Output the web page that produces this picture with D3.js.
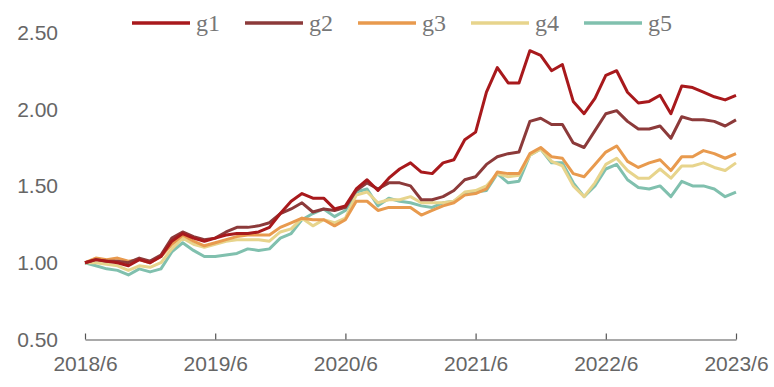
<!DOCTYPE html>
<html>
<head>
<meta charset="utf-8">
<script src="https://cdn.jsdelivr.net/npm/d3@7/dist/d3.min.js"></script>
<style>
  body { margin: 0; background: #fff; }
  .ylab, .xlab { font-family: "Liberation Sans", Arial, sans-serif; font-size: 21px; fill: #666; }
  .leg { font-family: "Liberation Serif", "DejaVu Serif", serif; font-size: 24px; fill: #777; }
</style>
</head>
<body>
<svg id="chart" width="774" height="387"></svg>
<script>
// monthly values, 2018/6 .. 2023/6
var xLabels = ["2018/6", "2019/6", "2020/6", "2021/6", "2022/6", "2023/6"];
var yTicks = [0.5, 1.0, 1.5, 2.0, 2.5];
var names = ["g1", "g2", "g3", "g4", "g5"];
var colors = ["#a8191c", "#8c3a3a", "#e89a4e", "#e7d48c", "#80c0ae"];

var g1 = [1.00,1.02,1.01,1.00,0.98,1.02,1.00,1.04,1.14,1.19,1.16,1.14,1.16,1.18,1.19,1.19,1.20,1.23,1.32,1.40,
          1.45,1.42,1.42,1.35,1.37,1.48,1.54,1.47,1.55,1.61,1.65,1.59,1.58,1.65,1.67,1.80,1.85,2.11,2.27,2.17,
          2.17,2.38,2.35,2.25,2.29,2.05,1.97,2.07,2.22,2.25,2.11,2.04,2.05,2.09,1.97,2.15,2.14,2.11,2.08,2.06,2.09];
var g2 = [1.00,1.02,1.01,1.01,1.00,1.03,1.01,1.05,1.16,1.20,1.17,1.15,1.16,1.20,1.23,1.23,1.24,1.26,1.32,1.35,
          1.39,1.33,1.35,1.34,1.36,1.47,1.52,1.48,1.52,1.52,1.50,1.41,1.41,1.43,1.47,1.54,1.56,1.64,1.69,1.71,
          1.72,1.92,1.94,1.90,1.90,1.78,1.75,1.86,1.97,1.99,1.92,1.87,1.87,1.89,1.81,1.95,1.93,1.93,1.92,1.89,1.93];
var g3 = [1.00,1.03,1.02,1.03,1.01,1.02,1.00,1.04,1.12,1.18,1.14,1.11,1.13,1.15,1.17,1.18,1.18,1.18,1.23,1.26,
          1.29,1.28,1.28,1.24,1.28,1.40,1.40,1.34,1.36,1.36,1.36,1.31,1.34,1.37,1.39,1.44,1.45,1.48,1.59,1.58,
          1.58,1.71,1.75,1.69,1.68,1.58,1.56,1.64,1.72,1.76,1.66,1.62,1.65,1.67,1.60,1.69,1.69,1.73,1.71,1.68,1.71];
var g4 = [1.00,1.00,0.99,0.98,0.95,0.98,0.97,1.00,1.09,1.16,1.12,1.10,1.12,1.14,1.15,1.15,1.15,1.14,1.20,1.22,
          1.29,1.24,1.28,1.26,1.29,1.44,1.46,1.39,1.41,1.41,1.43,1.39,1.39,1.39,1.40,1.46,1.47,1.50,1.58,1.56,
          1.57,1.70,1.74,1.66,1.63,1.50,1.43,1.52,1.64,1.68,1.60,1.55,1.55,1.61,1.55,1.63,1.63,1.65,1.62,1.60,1.65];
var g5 = [1.00,0.98,0.96,0.95,0.92,0.96,0.94,0.96,1.07,1.13,1.08,1.04,1.04,1.05,1.06,1.09,1.08,1.09,1.16,1.19,
          1.28,1.32,1.35,1.30,1.34,1.46,1.48,1.37,1.42,1.40,1.39,1.37,1.36,1.39,1.40,1.45,1.46,1.47,1.58,1.52,
          1.53,1.70,1.74,1.65,1.65,1.52,1.43,1.50,1.61,1.64,1.54,1.49,1.48,1.50,1.43,1.53,1.50,1.50,1.48,1.43,1.46];
var series = [g1, g2, g3, g4, g5];

var svg = d3.select("#chart");

var x = d3.scaleLinear().domain([0, 60]).range([85, 736]);
var y = d3.scaleLinear().domain([0.5, 2.5]).range([339.5, 32.3]);

// y labels (no axis line)
svg.selectAll(".ylab").data(yTicks).enter().append("text")
	.attr("class", "ylab")
	.attr("x", 58)
	.attr("y", function(d) { return y(d); })
	.attr("dy", "0.36em")
	.attr("text-anchor", "end")
	.text(function(d) { return d.toFixed(2); });

// x axis
var xAxis = d3.axisBottom(x)
	.tickValues([0, 12, 24, 36, 48, 60])
	.tickSize(0)
	.tickFormat(function(d, i) { return xLabels[i]; });
var gx = svg.append("g").attr("transform", "translate(0,339.5)").call(xAxis);
gx.select(".domain").attr("stroke", "#555").attr("stroke-width", 1.2);
gx.selectAll(".tick line").remove();
gx.selectAll(".tick").append("line")
	.attr("y1", 0).attr("y2", -6)
	.attr("stroke", "#555").attr("stroke-width", 1.2);
gx.selectAll(".tick text")
	.attr("class", "xlab")
	.attr("y", 17)
	.attr("dy", "0.71em")
	.attr("font-family", null).attr("font-size", null).attr("fill", null);

var line = d3.line()
	.x(function(d, i) { return x(i); })
	.y(function(d) { return y(d); });

// draw g5 first so g1 ends on top
for (var k = series.length - 1; k >= 0; k--) {
	svg.append("path")
		.attr("d", line(series[k]))
		.attr("fill", "none")
		.attr("stroke", colors[k])
		.attr("stroke-width", 3)
		.attr("stroke-linejoin", "round");
}

// legend
var leg = svg.selectAll(".legitem").data(names).enter().append("g")
	.attr("transform", function(d, i) { return "translate(" + (132 + i * 113) + ",23)"; });
leg.append("line")
	.attr("x1", 0).attr("x2", 58)
	.attr("stroke", function(d, i) { return colors[i]; })
	.attr("stroke-width", 3.5);
leg.append("text")
	.attr("class", "leg")
	.attr("x", 64)
	.attr("y", 8)
	.text(function(d) { return d; });
</script>
</body>
</html>
